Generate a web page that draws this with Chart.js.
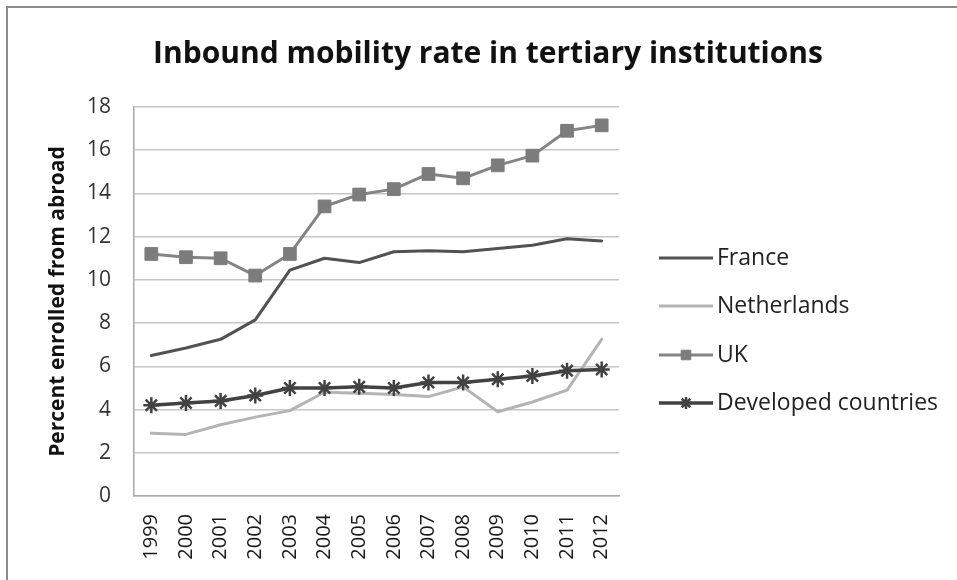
<!DOCTYPE html>
<html>
<head>
<meta charset="utf-8">
<title>Inbound mobility rate</title>
<script src="https://cdn.jsdelivr.net/npm/chart.js@4/dist/chart.umd.min.js"></script>
<style>
  html, body { margin: 0; padding: 0; background: #fff; }
  canvas { display: block; }
</style>
</head>
<body>
<canvas id="chart" width="957" height="580"></canvas>
<script>
// yearly inbound mobility rate, % of tertiary students enrolled from abroad
const years = ['1999', '2000', '2001', '2002', '2003', '2004', '2005', '2006', '2007', '2008', '2009', '2010', '2011', '2012'];
const france = [6.5, 6.85, 7.25, 8.15, 10.45, 11.0, 10.8, 11.3, 11.35, 11.3, 11.45, 11.6, 11.9, 11.8];
const netherlands = [2.9, 2.85, 3.3, 3.65, 3.95, 4.8, 4.75, 4.7, 4.6, 5.05, 3.9, 4.35, 4.9, 7.25];
const uk = [11.2, 11.05, 11.0, 10.2, 11.2, 13.4, 13.95, 14.2, 14.9, 14.7, 15.3, 15.75, 16.9, 17.15];
const developed = [4.2, 4.3, 4.4, 4.65, 5.0, 5.0, 5.05, 5.0, 5.25, 5.25, 5.4, 5.55, 5.8, 5.85];
const yTicks = [0, 2, 4, 6, 8, 10, 12, 14, 16, 18];

const FONT = "'Open Sans', 'DejaVu Sans', sans-serif";

// white page, frame, title and the line-style legend on the right
const decor = {
  id: 'decor',
  beforeDraw(chart) {
    const ctx = chart.ctx;
    ctx.save();
    ctx.fillStyle = '#fff';
    ctx.fillRect(0, 0, chart.width, chart.height);
    ctx.restore();
  },
  afterDraw(chart) {
    const ctx = chart.ctx;
    ctx.save();
    ctx.strokeStyle = '#8c8c8c';
    ctx.lineWidth = 2;
    ctx.beginPath();
    ctx.moveTo(7, chart.height);
    ctx.lineTo(7, 7);
    ctx.lineTo(chart.width, 7);
    ctx.stroke();

    ctx.fillStyle = '#111';
    ctx.font = 'bold 30px ' + FONT;
    ctx.textAlign = 'center';
    ctx.textBaseline = 'middle';
    ctx.fillText('Inbound mobility rate in tertiary institutions', 488, 54);

    const x0 = 659, x1 = 713;
    const rows = [258, 306, 355, 403];
    chart.data.datasets.forEach((ds, i) => {
      const y = rows[i];
      ctx.strokeStyle = ds.borderColor;
      ctx.lineWidth = ds.borderWidth;
      ctx.beginPath();
      ctx.moveTo(x0, y);
      ctx.lineTo(x1, y);
      ctx.stroke();
      if (ds.pointRadius > 0) {
        ctx.fillStyle = ds.pointBackgroundColor;
        ctx.strokeStyle = ds.pointBorderColor;
        ctx.lineWidth = ds.pointBorderWidth;
        Chart.helpers.drawPoint(ctx, {
          pointStyle: ds.pointStyle,
          radius: ds.pointRadius * 0.75,
          rotation: 0,
          borderWidth: ds.pointBorderWidth
        }, (x0 + x1) / 2, y);
      }
      ctx.fillStyle = '#222';
      ctx.font = '23px ' + FONT;
      ctx.textAlign = 'left';
      ctx.textBaseline = 'middle';
      ctx.fillText(ds.label, x1 + 4, y);
    });
    ctx.restore();
  }
};

new Chart(document.getElementById('chart'), {
  type: 'line',
  data: {
    labels: years,
    datasets: [
      {
        label: 'France',
        data: france,
        borderColor: '#525252',
        borderWidth: 3,
        pointRadius: 0,
        order: 3
      },
      {
        label: 'Netherlands',
        data: netherlands,
        borderColor: '#b4b4b4',
        borderWidth: 3,
        pointRadius: 0,
        order: 4
      },
      {
        label: 'UK',
        data: uk,
        borderColor: '#848484',
        borderWidth: 3,
        pointStyle: 'rect',
        pointRadius: 9,
        pointBackgroundColor: '#7c7c7c',
        pointBorderColor: '#7c7c7c',
        pointBorderWidth: 1,
        order: 2
      },
      {
        label: 'Developed countries',
        data: developed,
        borderColor: '#424242',
        borderWidth: 3.5,
        pointStyle: 'star',
        pointRadius: 8,
        pointBackgroundColor: '#424242',
        pointBorderColor: '#424242',
        pointBorderWidth: 2.5,
        order: 1
      }
    ]
  },
  options: {
    responsive: false,
    animation: false,
    events: [],
    elements: { line: { tension: 0, borderJoinStyle: 'round', borderCapStyle: 'round' } },
    layout: { padding: { left: 40, top: 107, right: 338, bottom: 0 } },
    plugins: {
      legend: { display: false },
      title: { display: false },
      tooltip: { enabled: false }
    },
    scales: {
      x: {
        offset: true,
        grid: { display: false },
        border: { display: true, color: '#a8a8a8', width: 1.5 },
        ticks: {
          minRotation: 90,
          maxRotation: 90,
          padding: 10,
          color: '#1a1a1a',
          font: { family: FONT, size: 20 }
        },
        afterFit(scale) { scale.height = 84; }
      },
      y: {
        min: 0,
        max: 18,
        afterBuildTicks(scale) { scale.ticks = yTicks.map(v => ({ value: v })); },
        grid: { color: '#c6c6c6', lineWidth: 1.5, drawTicks: false },
        border: { display: true, color: '#a8a8a8', width: 1.5 },
        ticks: {
          padding: 23,
          color: '#333',
          font: { family: FONT, size: 21 }
        },
        title: {
          display: true,
          text: 'Percent enrolled from abroad',
          color: '#111',
          font: { family: FONT, size: 21, weight: 'bold' },
          padding: { top: 5, bottom: 0 }
        },
        afterFit(scale) { scale.width = 94; }
      }
    }
  },
  plugins: [decor]
});
</script>
</body>
</html>
